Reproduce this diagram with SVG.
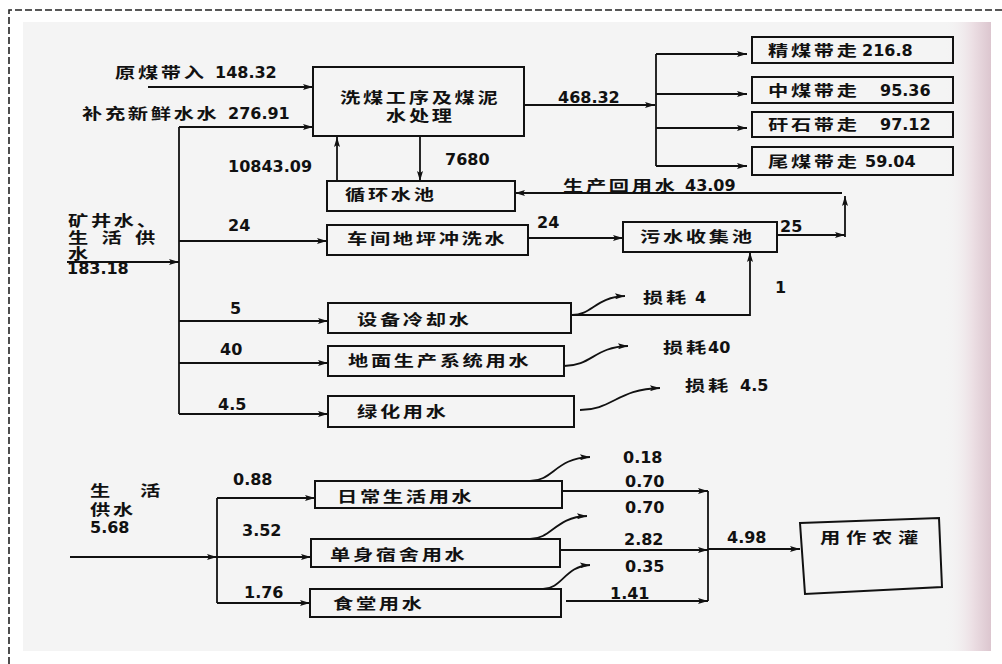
<svg xmlns="http://www.w3.org/2000/svg" width="1002" height="664" viewBox="0 0 1002 664">
<defs>
<marker id="ah" viewBox="0 0 10 6" refX="10" refY="3" markerWidth="11" markerHeight="6" orient="auto" markerUnits="userSpaceOnUse">
<path d="M0,0 L10,3 L0,6 L2,3 Z" fill="#111"/>
</marker>
<linearGradient id="edge" x1="0" y1="0" x2="1" y2="0">
<stop offset="0" stop-color="#f4f4f4" stop-opacity="0"/>
<stop offset="0.6" stop-color="#ecdfe4"/>
<stop offset="1" stop-color="#dcc6cf"/>
</linearGradient>
<style>
.c{font-family:"Noto Sans CJK SC","Noto Sans CJK TC",sans-serif;font-size:15px;font-weight:700;letter-spacing:2px;fill:#111}
.n{font-family:"DejaVu Sans",sans-serif;font-size:16px;font-weight:700;fill:#111}
.box{fill:none;stroke:#111;stroke-width:2}
.ln{fill:none;stroke:#111;stroke-width:1.8}
.ar{marker-end:url(#ah)}
</style>
</defs>
<rect x="0" y="0" width="1002" height="664" fill="#ffffff"/>
<rect x="23" y="22" width="968" height="629" fill="#f4f4f4"/>
<rect x="945" y="22" width="46" height="629" fill="url(#edge)"/>
<path d="M9,664 V10 H1002" fill="none" stroke="#222" stroke-width="1.6" stroke-dasharray="7,3"/>

<g id="connectors">
<path class="ln ar" d="M148,87 H313"/>
<path class="ln ar" d="M179,127 H313"/>
<path class="ln" d="M179,127 V414"/>
<path class="ln ar" d="M67,262 H179"/>
<path class="ln ar" d="M524,105 H655"/>
<path class="ln" d="M656,54 V166"/>
<path class="ln ar" d="M656,54 H747"/>
<path class="ln ar" d="M656,94 H747"/>
<path class="ln ar" d="M656,128 H747"/>
<path class="ln ar" d="M656,166 H747"/>
<path class="ln ar" d="M337,181 V137"/>
<path class="ln ar" d="M420,136 V181"/>
<path class="ln ar" d="M842,193 H515"/>
<path class="ln ar" d="M845,237 V196"/>
<path class="ln ar" d="M179,241 H327"/>
<path class="ln ar" d="M528,238 H623"/>
<path class="ln ar" d="M777,235 H845"/>
<path class="ln ar" d="M179,321 H328"/>
<path class="ln ar" d="M571,315 H750 V252"/>
<path class="ln ar" d="M572,315 C592,315 596,297 625,296"/>
<path class="ln ar" d="M179,363 H328"/>
<path class="ln ar" d="M564,366 C592,366 594,347 628,346"/>
<path class="ln ar" d="M179,414 H328"/>
<path class="ln ar" d="M580,410 C612,410 618,389 660,388"/>
<path class="ln ar" d="M70,557 H217"/>
<path class="ln" d="M217,498 V603"/>
<path class="ln ar" d="M217,498 H315"/>
<path class="ln ar" d="M217,557 H311"/>
<path class="ln ar" d="M217,603 H310"/>
<path class="ln ar" d="M530,481 C553,481 556,458 590,457"/>
<path class="ln ar" d="M530,539 C552,539 555,517 587,516"/>
<path class="ln ar" d="M543,589 C562,589 565,566 590,565"/>
<path class="ln ar" d="M562,491 H708"/>
<path class="ln ar" d="M560,550 H708"/>
<path class="ln ar" d="M566,601 H708"/>
<path class="ln" d="M708,491 V601"/>
<path class="ln ar" d="M708,549 H800"/>
</g>

<g id="labels">
<text class="c" transform="matrix(1.35 0 0 1 115 77.5)">原煤带入</text>
<text class="n" x="215" y="78">148.32</text>
<text class="c" transform="matrix(1.35 0 0 1 82 118.5)">补充新鲜水水</text>
<text class="n" x="228" y="119">276.91</text>
<text class="n" x="558" y="103">468.32</text>
<text class="n" x="228" y="172">10843.09</text>
<text class="n" x="445" y="165">7680</text>
<text class="c" transform="matrix(1.35 0 0 1 563 190.5)">生产回用水</text>
<text class="n" x="685" y="191">43.09</text>
<text class="c" transform="matrix(1.35 0 0 1 68 225.5)">矿井水、</text>
<text class="c" style="letter-spacing:3.2px" transform="matrix(1.35 0 0 1 68 242.5)">生 活 供</text>
<text class="c" transform="matrix(1.35 0 0 1 68 258.5)">水</text>
<text class="n" x="67" y="274">183.18</text>
<text class="n" x="228" y="231">24</text>
<text class="n" x="537" y="228">24</text>
<text class="n" x="780" y="232">25</text>
<text class="n" x="775" y="293">1</text>
<text class="n" x="230" y="314">5</text>
<text class="n" x="220" y="355">40</text>
<text class="n" x="218" y="410">4.5</text>
<text class="c" transform="matrix(1.35 0 0 1 643 302.5)">损耗</text>
<text class="n" x="695" y="303">4</text>
<text class="c" transform="matrix(1.35 0 0 1 663 352.5)">损耗</text>
<text class="n" x="708" y="353">40</text>
<text class="c" transform="matrix(1.35 0 0 1 685 390.5)">损耗</text>
<text class="n" x="740" y="391">4.5</text>
<text class="c" transform="matrix(1.35 0 0 1 90 495.5)">生 <tspan x="37">活</tspan></text>
<text class="c" transform="matrix(1.35 0 0 1 90 514.5)">供水</text>
<text class="n" x="90" y="533">5.68</text>
<text class="n" x="233" y="485">0.88</text>
<text class="n" x="242" y="536">3.52</text>
<text class="n" x="244" y="598">1.76</text>
<text class="n" x="623" y="463">0.18</text>
<text class="n" x="625" y="487">0.70</text>
<text class="n" x="625" y="513">0.70</text>
<text class="n" x="624" y="545">2.82</text>
<text class="n" x="625" y="572">0.35</text>
<text class="n" x="610" y="599">1.41</text>
<text class="n" x="727" y="543">4.98</text>
</g>

<g id="node-wash">
<rect class="box" x="313" y="67" width="211" height="69"/>
<text class="c" transform="matrix(1.35 0 0 1 340 102.5)">洗煤工序及煤泥</text>
<text class="c" transform="matrix(1.35 0 0 1 386 120.5)">水处理</text>
</g>
<g id="node-jingmei">
<rect class="box" x="752" y="37" width="201" height="26"/>
<text class="c" transform="matrix(1.35 0 0 1 768 55.5)">精煤带走</text>
<text class="n" x="862" y="56">216.8</text>
</g>
<g id="node-zhongmei">
<rect class="box" x="752" y="77" width="201" height="26"/>
<text class="c" transform="matrix(1.35 0 0 1 768 95.5)">中煤带走</text>
<text class="n" x="880" y="96">95.36</text>
</g>
<g id="node-ganshi">
<rect class="box" x="752" y="112" width="201" height="25"/>
<text class="c" transform="matrix(1.35 0 0 1 768 129.5)">矸石带走</text>
<text class="n" x="880" y="130">97.12</text>
</g>
<g id="node-weimei">
<rect class="box" x="752" y="147" width="201" height="28"/>
<text class="c" transform="matrix(1.35 0 0 1 768 166.5)">尾煤带走</text>
<text class="n" x="865" y="167">59.04</text>
</g>
<g id="node-pool">
<rect class="box" x="327" y="181" width="188" height="30"/>
<text class="c" transform="matrix(1.35 0 0 1 345 199.5)">循环水池</text>
</g>
<g id="node-floorwash">
<rect class="box" x="327" y="225" width="201" height="30"/>
<text class="c" transform="matrix(1.35 0 0 1 347 243.5)">车间地坪冲洗水</text>
</g>
<g id="node-sewage">
<rect class="box" x="623" y="222" width="154" height="30"/>
<text class="c" transform="matrix(1.35 0 0 1 640 241.5)">污水收集池</text>
</g>
<g id="node-cooling">
<rect class="box" x="328" y="303" width="243" height="30"/>
<text class="c" transform="matrix(1.35 0 0 1 357 324.5)">设备冷却水</text>
</g>
<g id="node-ground">
<rect class="box" x="328" y="346" width="236" height="30"/>
<text class="c" transform="matrix(1.35 0 0 1 348 365.5)">地面生产系统用水</text>
</g>
<g id="node-green">
<rect class="box" x="328" y="396" width="246" height="31"/>
<text class="c" transform="matrix(1.35 0 0 1 357 416.5)">绿化用水</text>
</g>
<g id="node-daily">
<rect class="box" x="315" y="481" width="247" height="27"/>
<text class="c" transform="matrix(1.35 0 0 1 337 501.5)">日常生活用水</text>
</g>
<g id="node-dorm">
<rect class="box" x="311" y="539" width="249" height="28"/>
<text class="c" transform="matrix(1.35 0 0 1 330 559.5)">单身宿舍用水</text>
</g>
<g id="node-canteen">
<rect class="box" x="310" y="589" width="251" height="28"/>
<text class="c" transform="matrix(1.35 0 0 1 333 608.5)">食堂用水</text>
</g>
<g id="node-irrigation">
<polygon class="box" points="800,523 939,518 942,587 805,594"/>
<text class="c" style="letter-spacing:4.3px" transform="matrix(1.35 0 0 1 820 542.5)">用作农灌</text>
</g>
</svg>
